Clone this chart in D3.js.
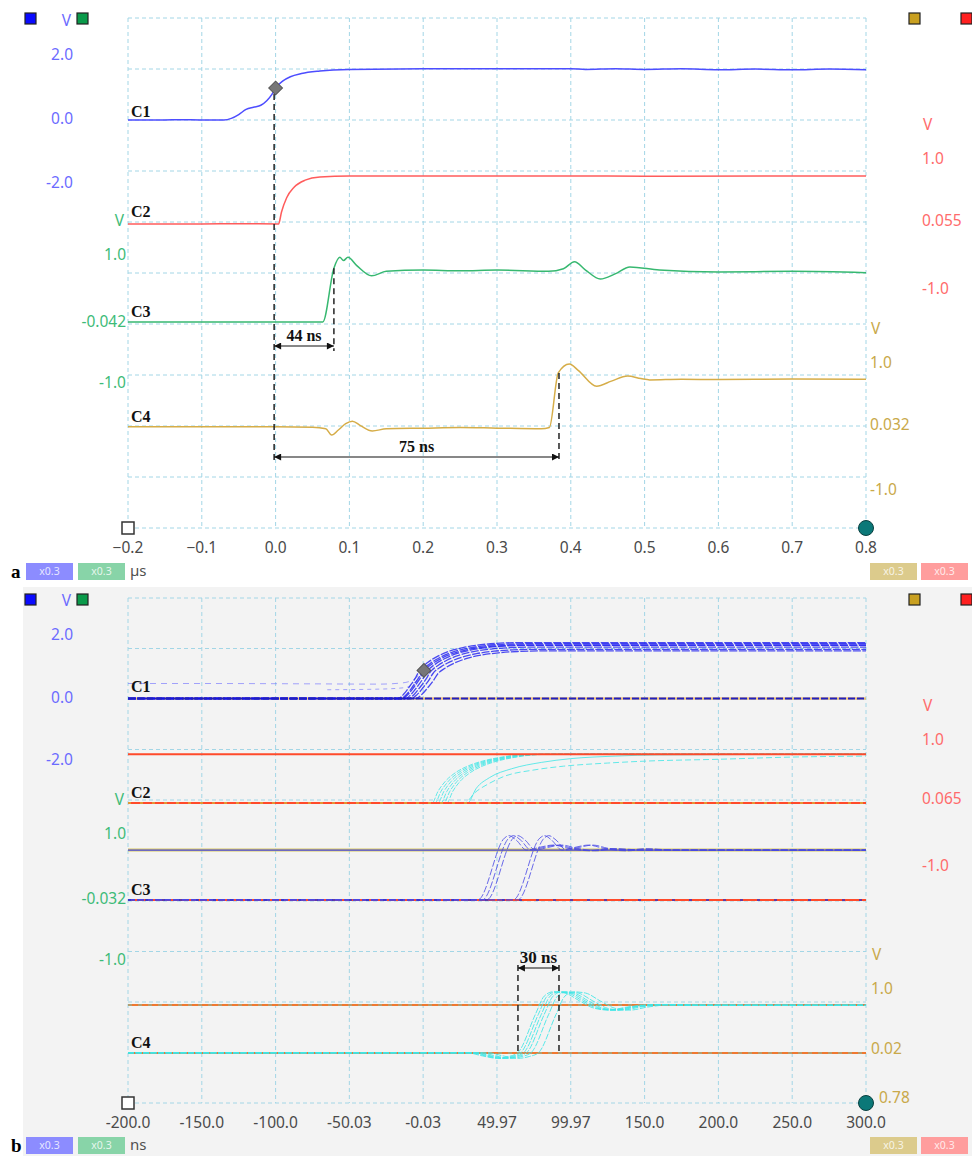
<!DOCTYPE html>
<html>
<head>
<meta charset="utf-8">
<script src="https://cdn.jsdelivr.net/npm/d3@7"></script>
<style>
  body { margin: 0; background: #fff; }
  svg { display: block; font-family: 'Noto Sans', 'Open Sans', sans-serif; }
  .serif { font-family: 'Liberation Serif', 'Times New Roman', serif; font-weight: bold; }
</style>
</head>
<body>
<svg id="chart"></svg>
<script>
// ---- panel a : single shot, time in µs, amplitude in V ----
const timeTicksA = [-0.2, -0.1, 0.0, 0.1, 0.2, 0.3, 0.4, 0.5, 0.6, 0.7, 0.8]
const c1A = [[-0.2, 0], [-0.15, 0], [-0.13, 0.01], [-0.1, 0], [-0.07, 0], [-0.06, 0.05], [-0.05, 0.17],
  [-0.04, 0.33], [-0.03, 0.4], [-0.02, 0.46], [-0.012, 0.6], [-0.005, 0.8], [0, 1.0], [0.01, 1.22],
  [0.02, 1.35], [0.035, 1.45], [0.06, 1.53], [0.1, 1.58], [0.2, 1.6], [0.4, 1.6], [0.42, 1.58],
  [0.46, 1.6], [0.5, 1.58], [0.55, 1.6], [0.6, 1.57], [0.65, 1.59], [0.7, 1.57], [0.75, 1.59], [0.8, 1.57]]
const c2A = [[-0.2, 0.015], [-0.1, 0.015], [-0.05, 0.02], [0.004, 0.015], [0.008, 0.2], [0.015, 0.42],
  [0.025, 0.58], [0.04, 0.69], [0.06, 0.74], [0.1, 0.755], [0.4, 0.755], [0.5, 0.75], [0.8, 0.755]]
const c3A = [[-0.2, -0.03], [0.064, -0.03], [0.079, 0.81], [0.087, 0.98], [0.092, 0.93], [0.098, 0.98],
  [0.11, 0.85], [0.13, 0.69], [0.15, 0.76], [0.2, 0.78], [0.25, 0.77], [0.3, 0.78], [0.37, 0.76],
  [0.39, 0.8], [0.405, 0.91], [0.42, 0.78], [0.44, 0.64], [0.46, 0.72], [0.48, 0.83], [0.52, 0.78],
  [0.6, 0.75], [0.7, 0.76], [0.8, 0.74]]
const c4A = [[-0.2, 0.01], [0.0, 0.01], [0.05, 0.005], [0.068, -0.02], [0.076, -0.12], [0.085, -0.04],
  [0.095, 0.06], [0.104, 0.1], [0.115, 0.03], [0.131, -0.055], [0.15, -0.02], [0.2, -0.01], [0.25, 0.0],
  [0.3, -0.01], [0.36, -0.02], [0.371, 0.0], [0.383, 0.86], [0.398, 1.0], [0.41, 0.9], [0.435, 0.65],
  [0.455, 0.73], [0.477, 0.81], [0.495, 0.77], [0.507, 0.75], [0.55, 0.76], [0.6, 0.755], [0.7, 0.765], [0.8, 0.76]]
const blueTicksA = [2.0, 0.0, -2.0]
const blueLabelsA = ['2.0', '0.0', '-2.0']
const redTicksA = [1.0, 0.055, -1.0]
const redLabelsA = ['1.0', '0.055', '-1.0']
const greenTicksA = [1.0, -0.042, -1.0]
const greenLabelsA = ['1.0', '-0.042', '-1.0']
const yellowTicksA = [1.0, 0.032, -1.0]
const yellowLabelsA = ['1.0', '0.032', '-1.0']
const spanLabelsA = ['44 ns', '75 ns']
const spanEndsA = [0.079, 0.384]
const spanStartA = -0.002

// ---- panel b : persistence, time in ns ----
const timeTicksB = [-200, -150, -100, -50.03, -0.03, 49.97, 99.97, 150, 200, 250, 300]
const timeLabelsB = ['-200.0', '-150.0', '-100.0', '-50.03', '-0.03', '49.97', '99.97', '150.0', '200.0', '250.0', '300.0']
const c1B = [[-200, 0], [-14, 0], [-10, 0.15], [-6, 0.4], [-2, 0.68], [0.5, 0.9], [6, 1.15], [12, 1.33],
  [20, 1.5], [30, 1.63], [42, 1.72], [55, 1.77], [70, 1.79], [300, 1.79]]
const c1ShiftsB = [-3, -1, 0, 2, 4, 6, 9]
const c1GainsB = [1, 0.98, 0.96, 0.95, 0.92, 0.88, 0.85]
const c1PreB = [[-200, 0.48], [-150, 0.48], [-80, 0.47], [-30, 0.46], [-14, 0.5], [-6, 0.62], [0.5, 0.9]]
const c1Pre2B = [[-65, 0.28], [-30, 0.3], [-12, 0.35], [-4, 0.6], [0.5, 0.9]]
const c2B = [[-200, 0.016], [6, 0.016], [10, 0.2], [15, 0.36], [22, 0.5], [30, 0.6], [40, 0.68],
  [52, 0.74], [65, 0.78], [80, 0.79], [300, 0.79]]
const c2ShiftsB = [0, 2, 4, 6, 8, 10]
const c2SlowB1 = [[-200, 0.016], [28, 0.016], [35, 0.18], [45, 0.33], [55, 0.44], [75, 0.54], [95, 0.6],
  [125, 0.65], [150, 0.68], [200, 0.71], [250, 0.745], [300, 0.76]]
const c2SlowB2 = [[-200, 0.016], [30, 0.016], [36, 0.25], [45, 0.42], [60, 0.56], [80, 0.66], [100, 0.72],
  [130, 0.76], [160, 0.78], [300, 0.79]]
const c3B = [[-200, -0.03], [37, -0.03], [55, 0.95], [58, 0.99], [63, 0.92], [70, 0.76], [78, 0.8],
  [88, 0.84], [98, 0.79], [112, 0.75], [125, 0.78], [145, 0.76], [300, 0.76]]
const c3ShiftsB = [0, 3, 6, 24, 27]
const c4B = [[-200, -0.03], [30, -0.03], [40, -0.08], [50, -0.12], [58, -0.09], [64, -0.03], [76, 0.6],
  [82, 0.9], [88, 0.97], [96, 0.95], [106, 0.82], [116, 0.7], [126, 0.67], [138, 0.72], [155, 0.76],
  [180, 0.75], [300, 0.75]]
const c4ShiftsB = [0, 2, 4, 6, 9, 14]
const blueTicksB = [2.0, 0.0, -2.0]
const blueLabelsB = ['2.0', '0.0', '-2.0']
const redTicksB = [1.0, 0.065, -1.0]
const redLabelsB = ['1.0', '0.065', '-1.0']
const greenTicksB = [1.0, -0.032, -1.0]
const greenLabelsB = ['1.0', '-0.032', '-1.0']
// the minus of the last one hides under the cursor dot
const yellowTicksB = [1.0, 0.02, -0.78]
const yellowLabelsB = ['1.0', '0.02', '0.78']
const spanLabelB = '30 ns'
const spanB = [64.2, 92]

const BLUE = '#6b6bff'
const RED = '#ff6b6b'
const GREEN = '#3dbb78'
const YELLOW = '#c9a94a'
const CYAN = '#3ee6e6'
const REF = '#ff4a2a'

const svg = d3.select('#chart').attr('width', 972).attr('height', 1156)
const defs = svg.append('defs')

defs.append('marker')
  .attr('id', 'arrow')
  .attr('viewBox', '0 0 10 10')
  .attr('refX', 10)
  .attr('refY', 5)
  .attr('markerWidth', 9)
  .attr('markerHeight', 7)
  .attr('markerUnits', 'userSpaceOnUse')
  .attr('orient', 'auto-start-reverse')
  .append('path')
  .attr('d', 'M0,0L10,5L0,10Z')
  .attr('fill', '#111')

/**
 * Copies a trace moved in time and scaled in amplitude (end points stay put).
 *
 * @param {number[][]} data the trace
 * @param {number} dt time shift
 * @param {number} gain amplitude factor
 * @returns {number[][]} the new trace
 */
function shifted (data, dt, gain) {
  return data.map(function (d, i) {
    const edge = i === 0 || i === data.length - 1
    return [edge ? d[0] : d[0] + dt, d[1] * gain]
  })
}

/**
 * Draws the dashed grid and the time tick labels.
 *
 * @param {*} g the container
 * @param {object} box the plot box
 * @param {*} x the time scale
 * @param {number[]} ticks tick values
 * @param {string[]} labels tick labels
 */
function drawFrame (g, box, x, ticks, labels) {
  const rows = d3.scaleLinear().domain([0, 10]).range([box.top, box.bottom])
  g.append('g').selectAll('line')
    .data(ticks)
    .enter()
    .append('line')
    .attr('x1', d => x(d)).attr('x2', d => x(d))
    .attr('y1', box.top).attr('y2', box.bottom)
    .attr('stroke', '#a3d6e6')
    .attr('stroke-dasharray', '4,3')
  g.append('g').selectAll('line')
    .data(d3.range(11))
    .enter()
    .append('line')
    .attr('x1', box.left).attr('x2', box.right)
    .attr('y1', d => rows(d)).attr('y2', d => rows(d))
    .attr('stroke', '#a3d6e6')
    .attr('stroke-dasharray', '4,3')
  g.append('g').selectAll('text')
    .data(ticks)
    .enter()
    .append('text')
    .attr('x', d => x(d))
    .attr('y', box.bottom + 21)
    .attr('text-anchor', 'middle')
    .attr('dominant-baseline', 'middle')
    .attr('font-size', 15.5)
    .attr('fill', '#4a4a4a')
    .text((d, i) => labels[i])
}

/**
 * Draws the corner marks that sit on top of everything.
 *
 * @param {*} g the container
 * @param {object} box the plot box
 */
function drawCorners (g, box) {
  g.append('rect')
    .attr('x', box.left - 6).attr('y', box.bottom - 6)
    .attr('width', 12).attr('height', 12)
    .attr('fill', '#fff').attr('stroke', '#333').attr('stroke-width', 1.5)
  g.append('circle')
    .attr('cx', box.right).attr('cy', box.bottom).attr('r', 7.5)
    .attr('fill', '#0b7878').attr('stroke', '#0a4040')
}

/**
 * Writes the channel amplitude labels with the unit above them.
 *
 * @param {*} g the container
 * @param {*} y the channel scale
 * @param {number[]} values three values, top to bottom
 * @param {string[]} labels their texts
 * @param {number} x anchor position
 * @param {string} anchor text-anchor
 * @param {string} color label color
 * @param {number} lastShift extra x offset of the bottom label
 */
function drawChannelLabels (g, y, values, labels, x, anchor, color, lastShift) {
  g.append('g').selectAll('text')
    .data(values)
    .enter()
    .append('text')
    .attr('x', (d, i) => i === 2 && lastShift ? x + lastShift : x)
    .attr('y', d => y(d))
    .attr('text-anchor', anchor)
    .attr('dominant-baseline', 'middle')
    .attr('font-size', 15.5)
    .attr('fill', color)
    .text((d, i) => labels[i])
  g.append('text')
    .attr('x', anchor === 'end' ? x - 2 : x + 1)
    .attr('y', y(values[0]) - 34)
    .attr('text-anchor', anchor)
    .attr('dominant-baseline', 'middle')
    .attr('font-size', 15.5)
    .attr('fill', color)
    .text('V')
}

/**
 * Draws one trace.
 *
 * @param {*} g the container
 * @param {*} x time scale
 * @param {*} y amplitude scale
 * @param {number[][]} data the trace
 * @param {object} style stroke options
 */
function drawTrace (g, x, y, data, style) {
  const line = d3.line()
    .x(d => x(d[0]))
    .y(d => y(d[1]))
    .curve(d3.curveMonotoneX)
  g.append('path')
    .datum(data)
    .attr('d', line)
    .attr('fill', 'none')
    .attr('stroke', style.color)
    .attr('stroke-width', style.width || 1.5)
    .attr('stroke-opacity', style.opacity || 1)
    .attr('stroke-dasharray', style.dash || null)
}

/**
 * Puts the channel name just above its baseline.
 */
function channelName (g, x, y, name) {
  g.append('text')
    .attr('class', 'serif')
    .attr('x', x)
    .attr('y', y)
    .attr('font-size', 16)
    .attr('fill', '#111')
    .text(name)
}

/**
 * Dashed vertical guide.
 */
function guide (g, x, y1, y2) {
  g.append('line')
    .attr('x1', x).attr('x2', x).attr('y1', y1).attr('y2', y2)
    .attr('stroke', '#222').attr('stroke-width', 1.5)
    .attr('stroke-dasharray', '6,4')
}

/**
 * Double headed arrow with its label.
 */
function span (g, x1, x2, y, label, size) {
  g.append('line')
    .attr('x1', x1).attr('x2', x2).attr('y1', y).attr('y2', y)
    .attr('stroke', '#111').attr('stroke-width', 1.2)
    .attr('marker-start', 'url(#arrow)')
    .attr('marker-end', 'url(#arrow)')
  g.append('text')
    .attr('class', 'serif')
    .attr('x', (x1 + x2) / 2)
    .attr('y', y - 5)
    .attr('text-anchor', 'middle')
    .attr('font-size', size)
    .attr('fill', '#111')
    .text(label)
}

/**
 * Channel colour squares, scale badges and the panel letter.
 */
function drawChrome (g, top, bottom, letter, unit) {
  const squares = [[25, '#0a0aff'], [77, '#0a9a4a'], [909, '#c9a020'], [961, '#ff2020']]
  g.selectAll('rect.sq')
    .data(squares)
    .enter()
    .append('rect')
    .attr('class', 'sq')
    .attr('x', d => d[0]).attr('y', top)
    .attr('width', 11).attr('height', 11)
    .attr('fill', d => d[1]).attr('stroke', '#222').attr('stroke-width', 1.2)
  const badges = [[26, '#8c8cff'], [78, '#88d4a8'], [870, '#dccb8c'], [921, '#ff9d9d']]
  const b = g.append('g').selectAll('g')
    .data(badges)
    .enter()
    .append('g')
  b.append('rect')
    .attr('x', d => d[0]).attr('y', bottom)
    .attr('width', 47).attr('height', 17)
    .attr('fill', d => d[1])
  b.append('text')
    .attr('x', d => d[0] + 23.5).attr('y', bottom + 9)
    .attr('text-anchor', 'middle').attr('dominant-baseline', 'middle')
    .attr('font-size', 10.5).attr('fill', '#fff').attr('fill-opacity', 0.8)
    .text('x0.3')
  g.append('text')
    .attr('x', 130).attr('y', bottom + 9)
    .attr('dominant-baseline', 'middle')
    .attr('font-size', 15).attr('fill', '#505050')
    .text(unit)
  g.append('text')
    .attr('class', 'serif')
    .attr('x', 11).attr('y', bottom + 15)
    .attr('font-size', 19).attr('fill', '#000')
    .text(letter)
}

// ================= panel a =================
const boxA = { left: 128, right: 866, top: 18, bottom: 528 }
const xA = d3.scaleLinear().domain([-0.2, 0.8]).range([boxA.left, boxA.right])
const yC1A = d3.scaleLinear().domain([-2, 2]).range([184, 56])
const yC2A = d3.scaleLinear().domain([-1, 1]).range([290, 160])
const yC3A = d3.scaleLinear().domain([-1, 1]).range([384, 256])
const yC4A = d3.scaleLinear().domain([-1, 1]).range([491, 364])

const gA = svg.append('g')
drawFrame(gA, boxA, xA, timeTicksA, timeTicksA.map(d3.format('.1f')))
drawChannelLabels(gA, yC1A, blueTicksA, blueLabelsA, 73, 'end', BLUE)
drawChannelLabels(gA, yC3A, greenTicksA, greenLabelsA, 126, 'end', GREEN)
drawChannelLabels(gA, yC2A, redTicksA, redLabelsA, 922, 'start', RED)
drawChannelLabels(gA, yC4A, yellowTicksA, yellowLabelsA, 870, 'start', YELLOW)
drawTrace(gA, xA, yC1A, c1A, { color: '#4d4dff' })
drawTrace(gA, xA, yC2A, c2A, { color: '#ff5c5c' })
drawTrace(gA, xA, yC3A, c3A, { color: '#37b870' })
drawTrace(gA, xA, yC4A, c4A, { color: '#d6ad48' })
channelName(gA, 131, yC1A(0) - 3, 'C1')
channelName(gA, 131, yC2A(0.015) - 7, 'C2')
channelName(gA, 131, yC3A(-0.03) - 5, 'C3')
channelName(gA, 131, yC4A(0.01) - 5, 'C4')

guide(gA, xA(spanStartA), yC1A(1.0) + 6, 461)
guide(gA, xA(spanEndsA[0]), yC3A(0.81), 351)
guide(gA, xA(spanEndsA[1]), yC4A(0.86), 461)
span(gA, xA(spanStartA), xA(spanEndsA[0]), 346, spanLabelsA[0], 16)
span(gA, xA(spanStartA), xA(spanEndsA[1]), 457, spanLabelsA[1], 16)

gA.append('path')
  .attr('d', d3.symbol(d3.symbolSquare, 95)())
  .attr('transform', `translate(${xA(0)},${yC1A(1.0)}) rotate(45)`)
  .attr('fill', '#777').attr('stroke', '#555')
drawCorners(gA, boxA)
drawChrome(gA, 13, 563, 'a', 'µs')

// ================= panel b =================
svg.append('rect')
  .attr('x', 23).attr('y', 587).attr('width', 949).attr('height', 569)
  .attr('fill', '#f3f3f3')

const boxB = { left: 128, right: 866, top: 598, bottom: 1103 }
const xB = d3.scaleLinear().domain([-200, 300]).range([boxB.left, boxB.right])
const yC1B = d3.scaleLinear().domain([-2, 2]).range([761, 636])
const yC2B = d3.scaleLinear().domain([-1, 1]).range([867, 741])
const yC3B = d3.scaleLinear().domain([-1, 1]).range([961, 835])
const yC4B = d3.scaleLinear().domain([-1, 1]).range([1112, 990])

const gB = svg.append('g')
drawFrame(gB, boxB, xB, timeTicksB, timeLabelsB)
drawChannelLabels(gB, yC1B, blueTicksB, blueLabelsB, 73, 'end', BLUE)
drawChannelLabels(gB, yC3B, greenTicksB, greenLabelsB, 126, 'end', GREEN)
drawChannelLabels(gB, yC2B, redTicksB, redLabelsB, 922, 'start', RED)
drawChannelLabels(gB, yC4B, yellowTicksB, yellowLabelsB, 871, 'start', YELLOW, 8)

defs.append('clipPath').attr('id', 'clipB')
  .append('rect')
  .attr('x', boxB.left).attr('y', boxB.top - 5)
  .attr('width', boxB.right - boxB.left + 2).attr('height', boxB.bottom - boxB.top + 10)
const tr = gB.append('g').attr('clip-path', 'url(#clipB)')

// reference levels left on screen
drawTrace(tr, xB, yC1B, [[-200, 0], [300, 0]], { color: '#f0a030', width: 2.5, opacity: 0.6 })
drawTrace(tr, xB, yC3B, [[-200, 0.76], [300, 0.76]], { color: '#d8c860', width: 3 })
drawTrace(tr, xB, yC3B, [[-200, -0.03], [300, -0.03]], { color: REF, width: 2 })
drawTrace(tr, xB, yC4B, [[-200, 0.754], [300, 0.754]], { color: '#f07830', width: 2 })
drawTrace(tr, xB, yC4B, [[-200, -0.033], [300, -0.033]], { color: '#f07830', width: 2 })

// C1 captures
drawTrace(tr, xB, yC1B, c1PreB, { color: '#6a6aff', width: 1, opacity: 0.6, dash: '6,5' })
drawTrace(tr, xB, yC1B, c1Pre2B, { color: '#6a6aff', width: 1, opacity: 0.6, dash: '4,4' })
c1ShiftsB.forEach(function (dt, i) {
  drawTrace(tr, xB, yC1B, shifted(c1B, dt, c1GainsB[i]), { color: '#1010f0', width: 1.3, opacity: 0.75, dash: '8,1.5' })
})
drawTrace(tr, xB, yC1B, [[-200, 0], [300, 0]], { color: '#2020c0', width: 1.8, dash: '7,2' })

// C2 captures, with the red reference levels drawn over them
c2ShiftsB.forEach(function (dt) {
  drawTrace(tr, xB, yC2B, shifted(c2B, dt, 1), { color: CYAN, width: 1, opacity: 0.8, dash: '5,1.5' })
})
drawTrace(tr, xB, yC2B, c2SlowB1, { color: CYAN, width: 1, opacity: 0.8, dash: '6,3' })
drawTrace(tr, xB, yC2B, c2SlowB2, { color: CYAN, width: 1, opacity: 0.8 })
drawTrace(tr, xB, yC2B, [[-200, 0.79], [300, 0.79]], { color: REF, width: 2 })
drawTrace(tr, xB, yC2B, [[-200, 0.016], [300, 0.016]], { color: REF, width: 2 })
drawTrace(tr, xB, yC2B, [[-200, 0.016], [300, 0.016]], { color: '#c8e040', width: 1, dash: '3,9' })

// C3 captures
c3ShiftsB.forEach(function (dt) {
  drawTrace(tr, xB, yC3B, shifted(c3B, dt, 1), { color: '#4646e6', width: 1, opacity: 0.8, dash: '7,2' })
})
drawTrace(tr, xB, yC3B, [[-200, 0.76], [300, 0.76]], { color: '#4a4ae0', width: 1.3 })
drawTrace(tr, xB, yC3B, [[-200, -0.03], [300, -0.03]], { color: '#3434c8', width: 1.5, dash: '3,14' })

// C4 captures
c4ShiftsB.forEach(function (dt) {
  drawTrace(tr, xB, yC4B, shifted(c4B, dt, 1), { color: CYAN, width: 1, opacity: 0.85, dash: '6,1.5' })
})
drawTrace(tr, xB, yC4B, [[-200, 0.754], [300, 0.754]], { color: CYAN, width: 1, opacity: 0.7, dash: '4,6' })
drawTrace(tr, xB, yC4B, [[-200, -0.033], [300, -0.033]], { color: CYAN, width: 1, opacity: 0.7, dash: '4,6' })

channelName(gB, 131, yC1B(0) - 7, 'C1')
channelName(gB, 131, yC2B(0.016) - 5, 'C2')
channelName(gB, 131, yC3B(-0.03) - 5, 'C3')
channelName(gB, 131, yC4B(-0.033) - 5, 'C4')

guide(gB, xB(spanB[0]), 965, yC4B(-0.033))
guide(gB, xB(spanB[1]), 965, yC4B(-0.033))
span(gB, xB(spanB[0]), xB(spanB[1]), 968, spanLabelB, 17)

gB.append('path')
  .attr('d', d3.symbol(d3.symbolSquare, 95)())
  .attr('transform', `translate(${xB(0.5)},${yC1B(0.9)}) rotate(45)`)
  .attr('fill', '#777').attr('stroke', '#555')
drawCorners(gB, boxB)
drawChrome(gB, 594, 1137, 'b', 'ns')
</script>
</body>
</html>
